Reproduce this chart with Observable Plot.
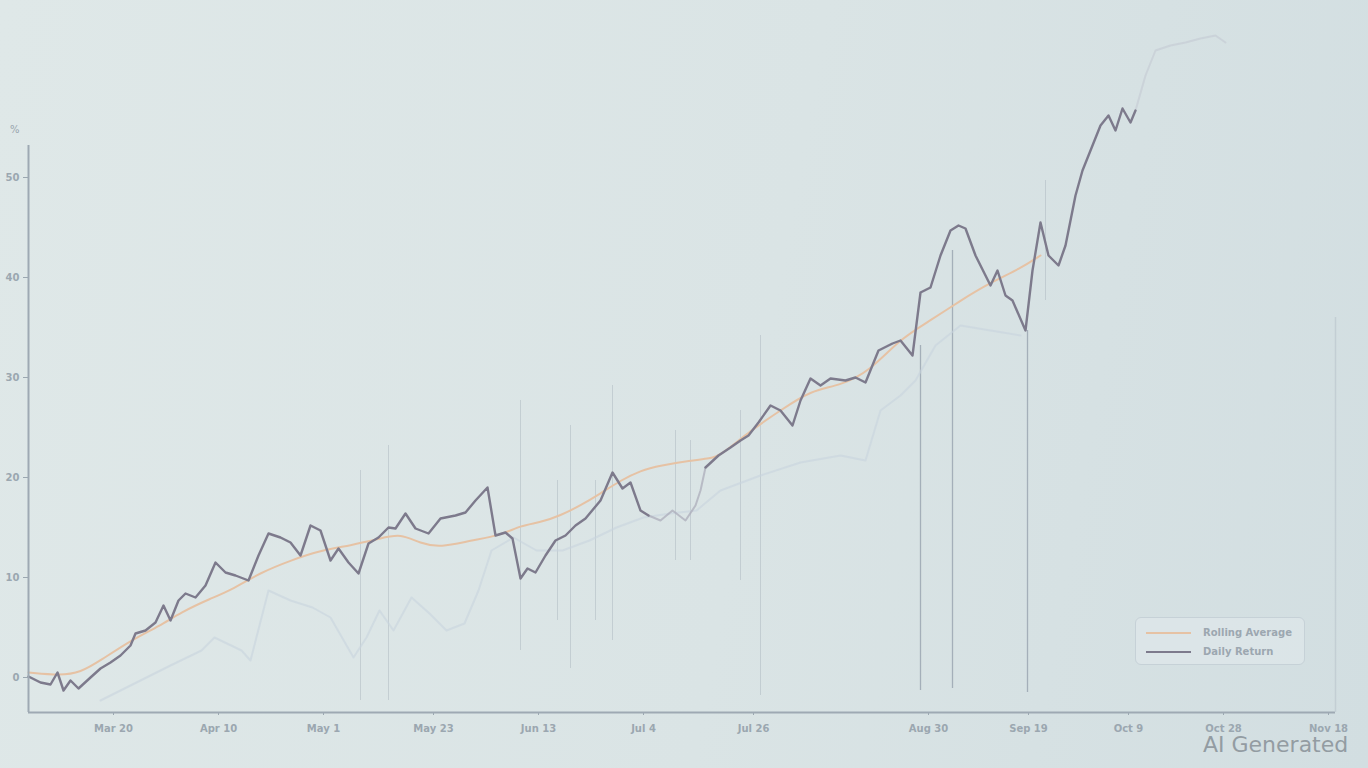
<!DOCTYPE html>
<html><head><meta charset="utf-8">
<script src="https://cdn.jsdelivr.net/npm/d3@7"></script>
<script src="https://cdn.jsdelivr.net/npm/@observablehq/plot@0.6"></script>
<style>
html,body{margin:0;padding:0;width:1368px;height:768px;overflow:hidden;}
body{background:linear-gradient(100deg,#dfe8e8 0%,#dae4e5 55%,#d2dee1 100%);font-family:"DejaVu Sans",sans-serif;position:relative;}
#chart{position:absolute;left:0;top:0;}
#chart svg{display:block;}
#unit{position:absolute;left:10px;top:124px;font-size:10px;color:#99a5ae;}
#legend{position:absolute;left:1135px;top:617px;width:170px;height:48px;box-sizing:border-box;border:1px solid #c6d1d7;border-radius:6px;background:rgba(226,234,236,0.55);font-size:10px;font-weight:bold;color:#9ca7b0;padding-top:5px;}
.row{display:flex;align-items:center;height:19px;margin-left:10px;}
.sw{width:45px;height:0;border-top:2px solid;margin-right:12px;}
#ai{position:absolute;left:1203px;top:732px;font-size:22px;color:#939ca2;font-family:"DejaVu Sans",sans-serif;}
</style></head>
<body>
<div id="chart"></div>
<div id="unit">%</div>
<div id="legend"></div>
<div id="ai">AI Generated</div>
<script>
// X axis: day index with tick labels
const tickDays = [17, 38, 59, 81, 102, 123, 145, 180, 200, 220, 239, 260];
const tickLabels = ["Mar 20", "Apr 10", "May 1", "May 23", "Jun 13", "Jul 4", "Jul 26", "Aug 30", "Sep 19", "Oct 9", "Oct 28", "Nov 18"];
const yTicks = [0, 10, 20, 30, 40, 50];

// Main series (daily price, % change)
const priceDay = [0,2.4,4.4,5.8,7,8.4,10,12.4,14.4,16.4,18.4,20.4,21.4,23.4,25.4,27,28.4,30,31.4,33.4,35.4,37.4,39.4,41.4,44,46,48,50.4,52.4,54.4,56.4,58.4,60.4,62,64,66,68,70,72,73.4,75.4,77.4,80,82.4,85.4,87.4,89.4,91.8,93.4,95.4,96.8,98.4,99.8,101.4,103.4,105.4,107.4,109.4,111.4,114.4,116.8,118.8,120.4,122.4,124];
const priceVal = [0.1,-0.5,-0.7,0.5,-1.3,-0.3,-1.1,0,0.9,1.5,2.2,3.2,4.4,4.7,5.5,7.2,5.7,7.7,8.4,8.0,9.2,11.5,10.5,10.2,9.7,12.2,14.4,14.0,13.5,12.2,15.2,14.7,11.7,12.9,11.5,10.4,13.4,14.0,15.0,14.9,16.4,14.9,14.4,15.9,16.2,16.5,17.7,19.0,14.2,14.5,13.9,9.9,10.9,10.5,12.2,13.7,14.2,15.2,15.9,17.7,20.5,18.9,19.5,16.7,16.2];
// Lighter stretch of the main series
const midDay = [124,126.4,128.8,131.4,133.4,134.4,135.4];
const midVal = [16.2,15.7,16.7,15.7,17.2,18.7,21.0];
const price2Day = [135.4,138,140.4,142.4,144,146,148.4,150.4,152.8,154.4,156.4,158.4,160.4,163.4,165.4,167.4,170,172.8,174.4,176.8,178.4,180.4,182.4,184.4,186,187.4,189.4,192.4,193.8,195.4,196.8,199.4,200.8,202.4,204,206,207.4,209.4,210.8,212.4,214.4,216,217.4,218.8,220.4,221.4];
const price2Val = [21.0,22.2,23.0,23.7,24.2,25.5,27.2,26.7,25.2,27.7,29.9,29.2,29.9,29.7,30.0,29.5,32.7,33.4,33.7,32.2,38.5,39.0,42.2,44.7,45.2,44.9,42.2,39.2,40.7,38.2,37.7,34.7,40.7,45.5,42.2,41.2,43.2,48.2,50.7,52.7,55.2,56.2,54.7,56.9,55.5,56.7];
// Faded continuation of main series
const tailDay = [221.4,223.4,225.4,228.4,231.4,234.4,237.4,239.4];
const tailVal = [56.7,60.2,62.7,63.2,63.5,63.9,64.2,63.5];

// Rolling average
const avgDay = [0,6.4,10.4,14.4,20.4,26.4,30.4,36.4,40.4,46.4,52.4,58.4,64.4,70.4,74.4,78.4,82.4,88.4,94.4,98.4,102.4,106.4,110.4,114.4,118.4,122.4,126.4,132.4,136.4,138.4,144.4,150.4,156.4,162.4,168.4,174.4,180.4,186.4,192.4,198.4,202.4];
const avgVal = [0.5,0.2,0.5,1.7,3.7,5.2,6.5,7.9,8.7,10.5,11.7,12.7,13.2,13.9,14.4,13.4,13.0,13.7,14.2,15.2,15.5,16.2,17.2,18.4,19.7,20.7,21.2,21.7,21.9,22.2,24.7,26.7,28.7,29.2,30.7,33.9,35.7,37.7,39.5,40.9,42.2];

// Faint secondary series
const ghostDay = [14.4,21.2,28.4,34.6,37.2,42.6,44.4,48,52.4,56.8,60.4,65,67.6,70.2,73,76.6,80.2,83.6,87.2,90,92.6,97,101.6,106.8,112.2,117.6,123,128.4,133.6,138.4,146.4,154.4,162.4,167.4,170.4,174.4,177.4,181.4,186.4,192.4,198.4];
const ghostVal = [-2.3,-0.6,1.2,2.7,4.0,2.7,1.7,8.7,7.7,7.0,6.0,2.0,4.0,6.7,4.7,8.0,6.4,4.7,5.4,8.7,12.7,14.0,12.7,12.7,13.7,15.0,16.0,16.4,16.7,18.7,20.2,21.5,22.2,21.7,26.7,28.2,29.7,33.2,35.2,34.7,34.2];

// Vertical spikes (day, low, high)
const spikeDay  = [66.4, 72, 98.4, 105.8, 108.4, 113.4, 116.8, 129.4, 132.4, 142.4, 146.4, 203.4];
const spikeLow  = [-2.3, -2.3, 2.7, 5.7, 0.9, 5.7, 3.7, 11.7, 11.7, 9.7, -1.8, 37.7];
const spikeHigh = [20.7, 23.2, 27.7, 19.7, 25.2, 19.7, 29.2, 24.7, 23.7, 26.7, 34.2, 49.7];
const bigSpikeDay  = [178.4, 184.8, 199.8];
const bigSpikeLow  = [-1.3, -1.1, -1.5];
const bigSpikeHigh = [33.2, 42.7, 34.7];

const legendNames = ["Rolling Average", "Daily Return"];
const legendColors = ["#e6c2a4", "#7d7a8c"];

const zip = (xs, ys) => xs.map((x, i) => ({x, y: ys[i]}));
const price = zip(priceDay, priceVal);
const price2 = zip(price2Day, price2Val);
const mid = zip(midDay, midVal);
const tail = zip(tailDay, tailVal);
const avg = zip(avgDay, avgVal);
const ghost = zip(ghostDay, ghostVal);
const spikes = spikeDay.map((d, i) => ({x: d, y1: spikeLow[i], y2: spikeHigh[i]}));
const bigSpikes = bigSpikeDay.map((d, i) => ({x: d, y1: bigSpikeLow[i], y2: bigSpikeHigh[i]}));
const labelMap = new Map(tickDays.map((d, i) => [d, tickLabels[i]]));

const xMax = 261.4, yMin = -3.5, yAxisTop = 53.2;

const chart = Plot.plot({
  width: 1368, height: 768,
  marginLeft: 28, marginRight: 33, marginTop: 30, marginBottom: 56,
  style: {background: "transparent", color: "#9ba7b0", fontSize: "10px", fontWeight: "bold", fontFamily: "DejaVu Sans, sans-serif"},
  x: {domain: [0, xMax], ticks: tickDays, tickFormat: d => labelMap.get(d), tickSize: 3, tickPadding: 9, label: null},
  y: {domain: [yMin, 64.7], ticks: yTicks, tickSize: 5, tickPadding: 4, label: null},
  marks: [
    Plot.ruleX(spikes, {x: "x", y1: "y1", y2: "y2", stroke: "#a7b2bb", strokeOpacity: 0.45, strokeWidth: 1}),
    Plot.ruleX(bigSpikes, {x: "x", y1: "y1", y2: "y2", stroke: "#8f9aa6", strokeOpacity: 0.7, strokeWidth: 1.3}),
    Plot.line(ghost, {x: "x", y: "y", stroke: "#c8d4de", strokeWidth: 2, strokeOpacity: 0.6}),
    Plot.line(avg, {x: "x", y: "y", stroke: legendColors[0], strokeWidth: 2, curve: "basis"}),
    Plot.line(tail, {x: "x", y: "y", stroke: "#b4b4c2", strokeWidth: 2, strokeOpacity: 0.3}),
    Plot.line(mid, {x: "x", y: "y", stroke: "#a9a9b8", strokeWidth: 2, strokeOpacity: 0.7}),
    Plot.line(price, {x: "x", y: "y", stroke: legendColors[1], strokeWidth: 2.4, strokeLinejoin: "round"}),
    Plot.line(price2, {x: "x", y: "y", stroke: legendColors[1], strokeWidth: 2.4, strokeLinejoin: "round"}),
    Plot.ruleX([0], {y1: yMin, y2: yAxisTop, stroke: "#9ea9b3", strokeWidth: 2}),
    Plot.ruleY([yMin], {x1: 0, x2: xMax, stroke: "#9ea9b3", strokeWidth: 2}),
    Plot.ruleX([xMax], {y1: yMin, y2: 36, stroke: "#c3ced4", strokeWidth: 1.5})
  ]
});
document.getElementById("chart").append(chart);

const lg = document.getElementById("legend");
legendNames.forEach((n, i) => {
  const r = document.createElement("div");
  r.className = "row";
  const s = document.createElement("div");
  s.className = "sw";
  s.style.borderTopColor = legendColors[i];
  const t = document.createElement("span");
  t.textContent = n;
  r.append(s, t);
  lg.append(r);
});
</script>
</body></html>
